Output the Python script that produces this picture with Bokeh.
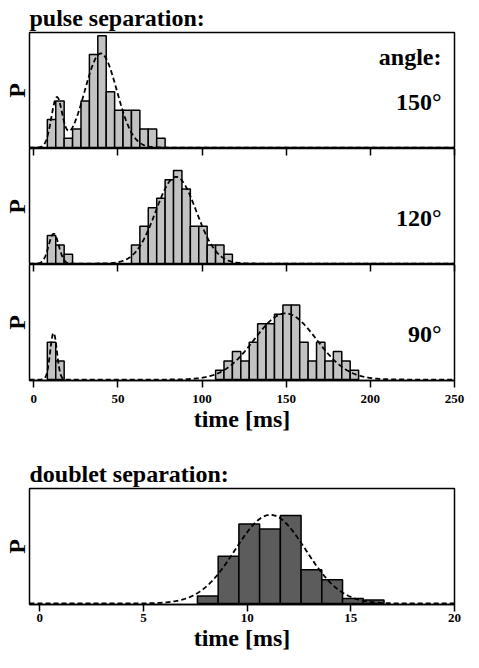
import numpy as np
from bokeh.plotting import figure
from bokeh.layouts import column
from bokeh.models import Range1d, FixedTicker, LinearAxis, Label, ColumnDataSource
from bokeh.embed import file_html
from bokeh.resources import INLINE

FONT = "Liberation Serif"

# ---------------- data ----------------
pulse_ticks = [0, 50, 100, 150, 200, 250]
doublet_ticks = [0, 5, 10, 15, 20]
pulse_bin_ms = 5
doublet_bin_ms = 1

angles = ["150°", "120°", "90°"]

# histogram bins: left edges (ms) and counts
left_150 = [8, 13, 18, 23, 28, 33, 38, 43, 48, 53, 58, 63, 68, 73]
count_150 = [3, 5, 1, 2, 5, 10, 12, 6, 4, 4, 4, 2, 2, 1]

left_120 = [8, 13, 18, 58, 63, 68, 73, 78, 83, 88, 93, 98, 103, 108, 113]
count_120 = [3, 2, 1, 2, 4, 6, 7, 9, 10, 8, 4, 4, 2, 2, 1]

left_90 = [8, 13, 108, 113, 118, 123, 128, 133, 138, 143, 148, 153, 158, 163,
           168, 173, 178, 183, 188]
count_90 = [4, 2, 1, 2, 3, 2, 4, 6, 6, 7, 8, 8, 4, 2, 4, 2, 3, 2, 1]

left_doublet = [7.6, 8.6, 9.6, 10.6, 11.6, 12.6, 13.6, 14.6, 15.6]
count_doublet = [2.2, 14, 23.5, 22, 26, 10, 7, 1.5, 1]

# gaussian fits (dashed): centres, widths (sigma), peak heights
fit_150_center = [13.6, 39.8]
fit_150_sigma = [3.2, 9.5]
fit_150_height = [5.2, 10.1]

fit_120_center = [11.8, 84.5]
fit_120_sigma = [3.0, 12.0]
fit_120_height = [3.2, 9.3]

fit_90_center = [11.7, 149.5]
fit_90_sigma = [2.0, 18.5]
fit_90_height = [5.0, 7.1]

fit_doublet_center = [11.12]
fit_doublet_sigma = [1.7]
fit_doublet_height = [26.2]

# ---------------- helpers ----------------
PULSE_X = (-2.6, 250)
DOUBLET_X = (-0.5, 20)
PULSE_Y = (-0.1, 12.35)
DOUBLET_Y = (-0.3, 34.0)
FRAME_W = 425


def fit_curve(xr, centers, sigmas, heights):
    x = np.linspace(xr[0], xr[1], 800)
    y = np.zeros_like(x)
    for c, s, h in zip(centers, sigmas, heights):
        y += h * np.exp(-0.5 * ((x - c) / s) ** 2)
    return x, y


def base_fig(xr, yr, top_border, bottom_border):
    p = figure(frame_width=FRAME_W, frame_height=116,
               x_range=Range1d(*xr), y_range=Range1d(*yr),
               output_backend="svg", toolbar_location=None,
               x_axis_location=None,
               min_border_left=27, min_border_right=11,
               min_border_top=top_border, min_border_bottom=bottom_border)
    p.xgrid.visible = False
    p.ygrid.visible = False
    p.outline_line_color = "black"
    p.outline_line_width = 1.5
    p.outline_line_alpha = 1.0
    p.background_fill_color = "white"
    p.border_fill_color = "white"
    ya = p.yaxis[0]
    ya.ticker = FixedTicker(ticks=[], minor_ticks=[])
    ya.axis_label = "P"
    ya.axis_label_text_font = FONT
    ya.axis_label_text_font_size = "24px"
    ya.axis_label_text_font_style = "bold"
    ya.axis_label_text_color = "black"
    ya.axis_label_standoff = 0
    ya.axis_line_color = None
    ya.major_tick_line_color = None
    ya.minor_tick_line_color = None
    ya.major_label_text_color = None
    ya.major_label_text_font_size = "1px"
    ya.major_label_standoff = 0
    return p


def add_top_ticks(p, ticks):
    ax = LinearAxis(ticker=FixedTicker(ticks=ticks, minor_ticks=[]))
    ax.major_tick_in = 7
    ax.major_tick_out = 0
    ax.major_tick_line_width = 1.5
    ax.major_tick_line_color = "black"
    ax.minor_tick_line_color = None
    ax.axis_line_color = None
    ax.major_label_text_color = None
    ax.major_label_text_font_size = "1px"
    ax.major_label_standoff = 0
    p.add_layout(ax, "above")


def add_bottom_axis(p, ticks, tick_len, label_standoff):
    ax = LinearAxis(ticker=FixedTicker(ticks=ticks, minor_ticks=[]))
    ax.major_tick_in = 0
    ax.major_tick_out = tick_len
    ax.major_tick_line_width = 1.5
    ax.major_tick_line_color = "black"
    ax.minor_tick_line_color = None
    ax.axis_line_color = "black"
    ax.axis_line_width = 1.5
    ax.major_label_text_font = FONT
    ax.major_label_text_font_size = "13px"
    ax.major_label_text_font_style = "bold"
    ax.major_label_text_color = "black"
    ax.major_label_standoff = label_standoff
    ax.axis_label = "time [ms]"
    ax.axis_label_text_font = FONT
    ax.axis_label_text_font_size = "24px"
    ax.axis_label_text_font_style = "bold"
    ax.axis_label_text_color = "black"
    ax.axis_label_standoff = 0
    p.add_layout(ax, "below")


def add_hist(p, left, counts, width, fill):
    src = ColumnDataSource(dict(left=left,
                                right=[l + width for l in left],
                                top=counts,
                                bottom=[0] * len(left)))
    p.quad(left="left", right="right", top="top", bottom="bottom", source=src,
           fill_color=fill, line_color="black", line_width=1.5)


def add_fit(p, xr, centers, sigmas, heights):
    x, y = fit_curve(xr, centers, sigmas, heights)
    p.line(x, y, line_color="black", line_width=1.8, line_dash="5 3")


def add_text(p, text, y):
    p.add_layout(Label(x=FRAME_W - 13, y=y, x_units="screen", y_units="screen",
                       text=text, text_align="right", text_baseline="alphabetic",
                       text_font=FONT, text_font_size="24px",
                       text_font_style="bold", text_color="black"))


def style_title(p, text):
    p.title.text = text
    p.title.text_font = FONT
    p.title.text_font_size = "24px"
    p.title.text_font_style = "bold"
    p.title.text_color = "black"
    p.title.align = "left"
    p.title.standoff = 4


LIGHT = "#c2c2c2"
DARK = "#5c5c5c"

# ---------------- panel 150 ----------------
p1 = base_fig(PULSE_X, PULSE_Y, 27, 0)
style_title(p1, "pulse separation:")
add_hist(p1, left_150, count_150, pulse_bin_ms, LIGHT)
add_fit(p1, PULSE_X, fit_150_center, fit_150_sigma, fit_150_height)
add_text(p1, "angle:", 92)
add_text(p1, angles[0], 47)

# ---------------- panel 120 ----------------
p2 = base_fig(PULSE_X, PULSE_Y, 0, 0)
add_top_ticks(p2, pulse_ticks)
add_hist(p2, left_120, count_120, pulse_bin_ms, LIGHT)
add_fit(p2, PULSE_X, fit_120_center, fit_120_sigma, fit_120_height)
add_text(p2, angles[1], 47)

# ---------------- panel 90 ----------------
p3 = base_fig(PULSE_X, PULSE_Y, 0, 55)
add_top_ticks(p3, pulse_ticks)
add_bottom_axis(p3, pulse_ticks, 7, 7)
add_hist(p3, left_90, count_90, pulse_bin_ms, LIGHT)
add_fit(p3, PULSE_X, fit_90_center, fit_90_sigma, fit_90_height)
add_text(p3, angles[2], 47)

# ---------------- doublet ----------------
p4 = base_fig(DOUBLET_X, DOUBLET_Y, 53, 50)
style_title(p4, "doublet separation:")
add_bottom_axis(p4, doublet_ticks, 7, 2)
add_hist(p4, left_doublet, count_doublet, doublet_bin_ms, DARK)
add_fit(p4, DOUBLET_X, fit_doublet_center, fit_doublet_sigma, fit_doublet_height)

layout = column(p1, p2, p3, p4, spacing=0)

open("out.html", "w").write(file_html(layout, INLINE))
